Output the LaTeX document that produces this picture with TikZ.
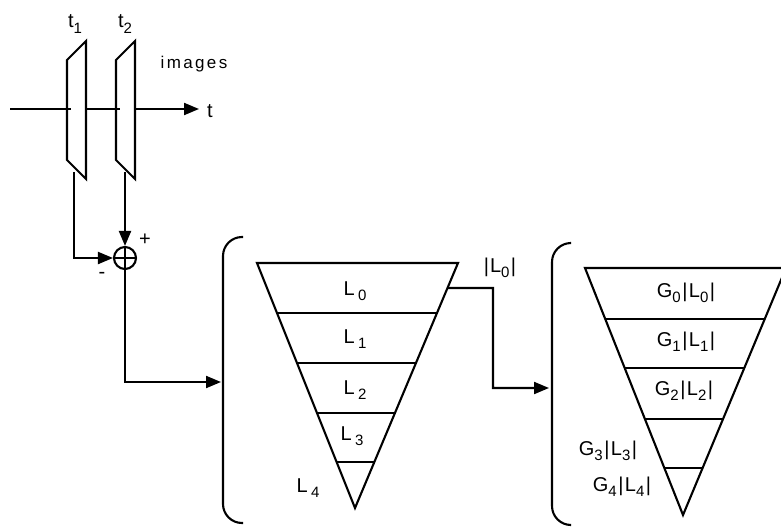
\documentclass[tikz,border=0pt]{standalone}
\usepackage{fontspec}
\setmainfont[LetterSpace=14]{Liberation Sans}
\usetikzlibrary{arrows.meta,calc}
\newcommand{\lowsub}[1]{\raisebox{-0.5ex}{\fontsize{15}{16}\selectfont #1}}
\newcommand{\vb}{\hspace{1.5pt}|\hspace{1.5pt}}
\begin{document}
\begin{tikzpicture}[x=1pt,y=-1pt,
  ln/.style={line width=2.1pt, line join=miter},
  arr/.style={ln, -{Triangle[length=15pt,width=12pt]}},
  lab/.style={inner sep=0pt, font=\fontsize{20}{22}\selectfont},
  brk/.style={ln, rounded corners=19pt}]
\useasboundingbox (0,0) rectangle (781,527);
\clip (0,0) rectangle (781,527);
% time axis
\coordinate (ax0) at (10,109);
\coordinate (ax1) at (71,109);
\coordinate (ax2) at (87,109);
\coordinate (ax3) at (120,109);
\coordinate (ax4) at (135,109);
\coordinate (ax5) at (199,109);
\draw[ln] (ax0) -- (ax1);
\draw[ln] (ax2) -- (ax3);
\draw[arr] (ax4) -- (ax5);
\node[lab] (tlab) at (210,111) {t};
% frames
\draw[ln] (67,60) -- (86,41) -- (86,179) -- (67,160) -- cycle;
\draw[ln] (116,60) -- (135,41) -- (135,179) -- (116,160) -- cycle;
\node[lab] (t1) at (75,24) {t\lowsub{1}};
\node[lab] (t2) at (125,24) {t\lowsub{2}};
\node[lab, font=\fontsize{17}{20}\selectfont] (img) at (194,64) {images};
% summing junction
\node[circle, draw, line width=2.1pt, minimum size=22pt, inner sep=0pt] (sum) at (125,258) {};
\draw[line width=1.6pt] (sum.north) -- (sum.south) (sum.west) -- (sum.east);
\coordinate (f1) at (74,172);
\coordinate (f2) at (125,172);
\draw[arr] (f1) |- (sum.west);
\draw[arr] (f2) -- (sum.north);
\node[lab] (plus) at (145,240) {+};
\node[lab] (minus) at (102,275) {-};
% bracket 1
\draw[brk] (243,237) -- (223,237) -- (223,523) -- (243,523);
\coordinate (b1) at (221,382);
\draw[arr] (sum.south) |- (b1);
% pyramid 1
\coordinate (p1l) at (257,263);
\coordinate (p1r) at (458,263);
\coordinate (p1a) at (355,508);
\draw[ln] (p1l) -- (p1r) -- (p1a) -- cycle;
\foreach \f in {0.204,0.408,0.612,0.812}
  \draw[ln] ($(p1l)!\f!(p1a)$) -- ($(p1r)!\f!(p1a)$);
\node[lab] (L0) at (355,291) {L\,\lowsub{0}};
\node[lab] (L1) at (355,339) {L\,\lowsub{1}};
\node[lab] (L2) at (355,390) {L\,\lowsub{2}};
\node[lab] (L3) at (352,436) {L\,\lowsub{3}};
\node[lab] (L4) at (308,488) {L\,\lowsub{4}};
% connector to pyramid 2
\coordinate (o1) at ($(p1r)!0.102!(p1a)$);
\coordinate (b2) at (549,388);
\draw[arr] (o1) -- (493,288) |- (b2);
\node[lab] (absL0) at (500,268) {|\hspace{1pt}L\lowsub{0}\vb};
% bracket 2
\draw[brk] (570,243) -- (552,243) -- (552,525) -- (570,525);
% pyramid 2
\coordinate (p2l) at (585,268);
\coordinate (p2r) at (786,268);
\coordinate (p2a) at (683,515);
\draw[ln] (p2l) -- (p2r) -- (p2a) -- cycle;
\foreach \f in {0.206,0.405,0.611,0.810}
  \draw[ln] ($(p2l)!\f!(p2a)$) -- ($(p2r)!\f!(p2a)$);
\node[lab] (G0) at (686,293) {G\lowsub{0}\vb L\lowsub{0}\vb};
\node[lab] (G1) at (686,342) {G\lowsub{1}\vb L\lowsub{1}\vb};
\node[lab] (G2) at (684,391) {G\lowsub{2}\vb L\lowsub{2}\vb};
\node[lab] (G3) at (608,451) {G\lowsub{3}\vb L\lowsub{3}\vb};
\node[lab] (G4) at (622,487) {G\lowsub{4}\vb L\lowsub{4}\vb};
\end{tikzpicture}
\end{document}
